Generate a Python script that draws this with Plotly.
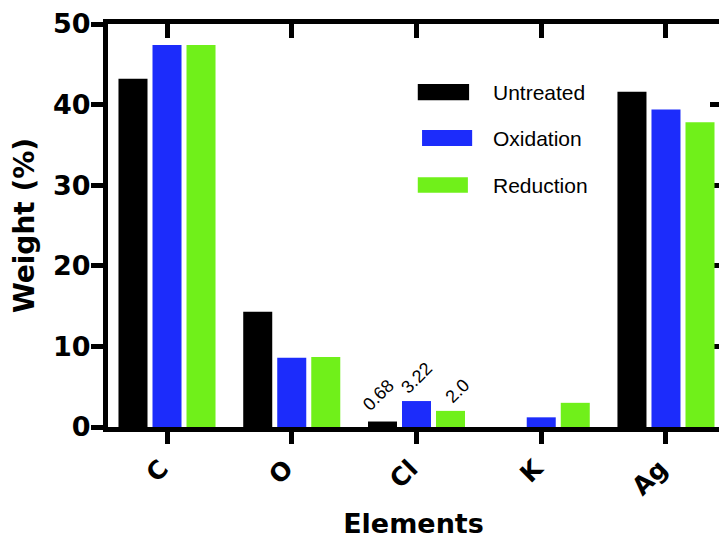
import plotly.graph_objects as go

elements = ["C", "O", "Cl", "K", "Ag"]
untreated = [43.2, 14.3, 0.68, 0, 41.6]
oxidation = [47.4, 8.6, 3.22, 1.2, 39.4]
reduction = [47.4, 8.7, 2.0, 3.0, 37.8]
labelled_element = "Cl"
labels = {"Untreated": "0.68", "Oxidation": "3.22", "Reduction": "2.0"}
series_names = ["Untreated", "Oxidation", "Reduction"]
colors = ["#000000", "#1c2cfb", "#70f01a"]
y_ticks = [0, 10, 20, 30, 40, 50]

BOLD = "DejaVu Sans, Verdana, sans-serif"
REG = "Arial, Liberation Sans, Helvetica, sans-serif"

fig = go.Figure()
for name, vals, col in zip(series_names, [untreated, oxidation, reduction], colors):
    fig.add_trace(go.Bar(
        x=elements, y=vals, name=name,
        marker=dict(color=col, line=dict(width=0)),
        showlegend=False,
    ))

# empty helper trace so the mirrored top/right axes are drawn
fig.add_trace(go.Scatter(x=[], y=[], xaxis="x2", yaxis="y2", showlegend=False, hoverinfo="skip"))

xr = [-0.473, 4.425]
LW = 5
fig.update_layout(
    width=719, height=544,
    margin=dict(l=108, r=0, t=24, b=117, autoexpand=False),
    paper_bgcolor="white", plot_bgcolor="white",
    barmode="group", bargap=0.182, bargroupgap=0.147,
    xaxis=dict(
        type="category", categoryorder="array", categoryarray=elements, range=xr,
        showline=True, linewidth=LW, linecolor="black",
        ticks="outside", ticklen=12, tickwidth=LW, tickcolor="black",
        tickangle=-45, ticklabelshift=-6,
        tickfont=dict(family=BOLD, size=25, color="black", weight="bold"),
        showgrid=False, zeroline=False, automargin=False,
        title=dict(text="Elements", font=dict(family=BOLD, size=27, color="black", weight="bold"), standoff=16),
    ),
    yaxis=dict(
        range=[0, 50], tickmode="array", tickvals=y_ticks,
        showline=True, linewidth=LW, linecolor="black",
        ticks="outside", ticklen=12, tickwidth=LW, tickcolor="black",
        ticklabelstandoff=-5,
        tickfont=dict(family=BOLD, size=27, color="black", weight="bold"),
        showgrid=False, zeroline=False, automargin=False,
        title=dict(text="Weight (%)", font=dict(family=BOLD, size=28, color="black", weight="bold"), standoff=12),
    ),
    xaxis2=dict(
        overlaying="x", side="top", type="linear", range=xr,
        tickmode="array", tickvals=list(range(len(elements))),
        showline=True, linewidth=LW, linecolor="black",
        ticks="inside", ticklen=14, tickwidth=LW, tickcolor="black",
        showticklabels=False, showgrid=False, zeroline=False, automargin=False,
    ),
    yaxis2=dict(
        overlaying="y", side="right", range=[0, 50],
        tickmode="array", tickvals=y_ticks,
        showline=False, ticks="inside", ticklen=9, tickwidth=LW, tickcolor="black",
        showticklabels=False, showgrid=False, zeroline=False, automargin=False,
        layer="below traces",
    ),
)

# value labels above the Cl bars (rotated, as in the original)
idx = elements.index(labelled_element)
group_offsets = [-34, 0, 34]
label_dx = [-4, 0, 7]
label_dy = [4, 1, 1]
for name, vals, off, dx, dy in zip(series_names, [untreated, oxidation, reduction],
                                   group_offsets, label_dx, label_dy):
    fig.add_annotation(x=labelled_element, y=vals[idx], xref="x", yref="y",
                       text=labels[name], showarrow=False, textangle=-45,
                       xanchor="center", yanchor="bottom", xshift=off + dx, yshift=dy,
                       font=dict(family=REG, size=18, color="black"))

# manual legend (wide rectangular swatches as in the original)
legend_rows = [(0.851, 0.811, 0.829), (0.737, 0.697, 0.715), (0.620, 0.581, 0.600)]
swatch_x = [(0.507, 0.591), (0.514, 0.596), (0.507, 0.589)]
for (y1, y0, yt), (x0, x1), name, col in zip(legend_rows, swatch_x, series_names, colors):
    fig.add_shape(type="rect", xref="paper", yref="paper", x0=x0, x1=x1, y0=y0, y1=y1,
                  fillcolor=col, line=dict(width=0))
    fig.add_annotation(xref="paper", yref="paper", x=0.627, y=yt, text=name, showarrow=False,
                       xanchor="left", yanchor="middle",
                       font=dict(family=REG, size=21, color="black"))

fig.write_html("out.html", config={"displayModeBar": False},
               post_script="document.body.style.margin='0px';")
